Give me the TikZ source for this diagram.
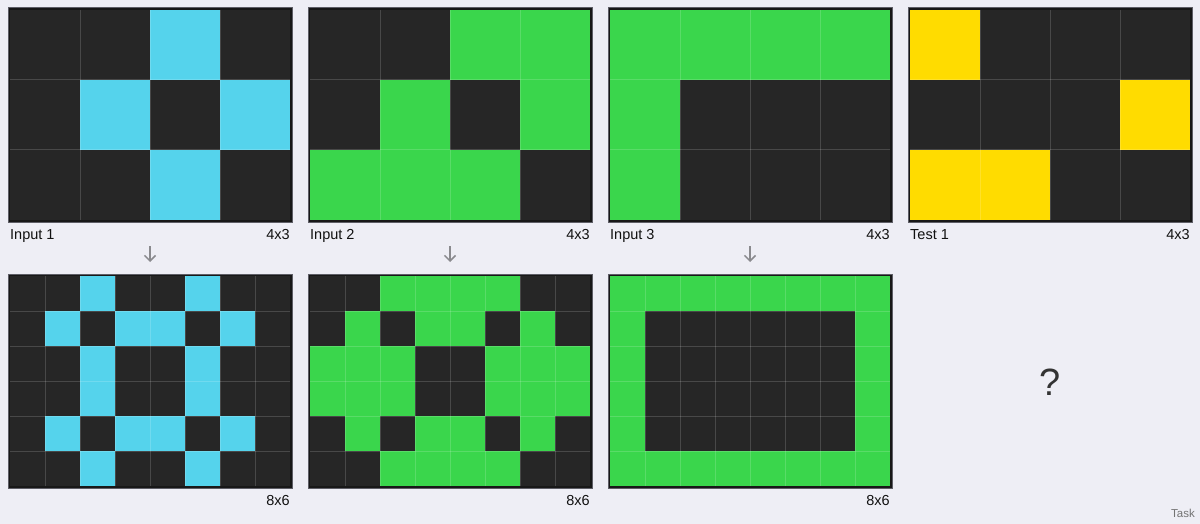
\documentclass[tikz,border=0pt]{standalone}
\usepackage{fontspec}
\setmainfont{Liberation Sans}
\usetikzlibrary{arrows.meta}
\definecolor{bg}{HTML}{EEEEF5}
\definecolor{celldark}{HTML}{262626}
\definecolor{framedark}{HTML}{181818}
\definecolor{framegrey}{HTML}{5E5E66}
\definecolor{arccyan}{HTML}{55D3EC}
\definecolor{arcgreen}{HTML}{3AD64C}
\definecolor{arcyellow}{HTML}{FFDC00}
\definecolor{arrowgrey}{HTML}{8A8A8E}
\definecolor{labeltext}{HTML}{111111}
\tikzset{
  gridframe/.style={draw=framegrey, fill=framedark, line width=1pt, inner sep=0pt, outer sep=0pt, rectangle},
  gridline/.style={draw=white, opacity=0.16, line width=1pt},
  lbl/.style={font=\fontsize{14.5}{16}\selectfont, text=labeltext, inner sep=0pt},
  arrowconn/.style={draw=arrowgrey, line width=1.5pt, -{Straight Barb[length=5.5pt,width=11pt,line width=1.5pt]}},
}
% #1 name #2 x0 #3 y0 #4 cell #5 ncols #6 nrows #7 colour #8 data
\newcommand\arcgrid[8]{%
  \node[gridframe, anchor=north west, minimum width={#4*#5+4}, minimum height={#4*#6+4}] (#1) at ({#2-2},{#3-2}) {};
  \fill[celldark] (#2,#3) rectangle ({#2+#4*#5},{#3+#4*#6});
  \foreach \row [count=\r from 0] in {#8} {
    \foreach \v [count=\c from 0] in \row {
      \ifnum\v=1 \fill[#7] ({#2+\c*#4},{#3+\r*#4}) rectangle ++(#4,#4);\fi
    }
  }
  \pgfmathtruncatemacro\lastc{#5-1}
  \pgfmathtruncatemacro\lastr{#6-1}
  \foreach \i in {1,...,\lastc} \draw[gridline] ({#2+\i*#4},#3) -- ({#2+\i*#4},{#3+#4*#6});
  \foreach \j in {1,...,\lastr} \draw[gridline] (#2,{#3+\j*#4}) -- ({#2+#4*#5},{#3+\j*#4});
}
\begin{document}
\begin{tikzpicture}[x=1pt,y=-1pt]
\useasboundingbox (0,0) rectangle (1200,524);
\fill[bg] (0,0) rectangle (1200,524);

% ---- inputs (top row)
\arcgrid{in1}{10}{10}{70}{4}{3}{arccyan}{{0,0,1,0},{0,1,0,1},{0,0,1,0}}
\arcgrid{in2}{310}{10}{70}{4}{3}{arcgreen}{{0,0,1,1},{0,1,0,1},{1,1,1,0}}
\arcgrid{in3}{610}{10}{70}{4}{3}{arcgreen}{{1,1,1,1},{1,0,0,0},{1,0,0,0}}
\arcgrid{test1}{910}{10}{70}{4}{3}{arcyellow}{{1,0,0,0},{0,0,0,1},{1,1,0,0}}

% ---- outputs (bottom row)
\arcgrid{out1}{10}{276}{35}{8}{6}{arccyan}{{0,0,1,0,0,1,0,0},{0,1,0,1,1,0,1,0},{0,0,1,0,0,1,0,0},{0,0,1,0,0,1,0,0},{0,1,0,1,1,0,1,0},{0,0,1,0,0,1,0,0}}
\arcgrid{out2}{310}{276}{35}{8}{6}{arcgreen}{{0,0,1,1,1,1,0,0},{0,1,0,1,1,0,1,0},{1,1,1,0,0,1,1,1},{1,1,1,0,0,1,1,1},{0,1,0,1,1,0,1,0},{0,0,1,1,1,1,0,0}}
\arcgrid{out3}{610}{276}{35}{8}{6}{arcgreen}{{1,1,1,1,1,1,1,1},{1,0,0,0,0,0,0,1},{1,0,0,0,0,0,0,1},{1,0,0,0,0,0,0,1},{1,0,0,0,0,0,0,1},{1,1,1,1,1,1,1,1}}

% ---- labels
\node[lbl, anchor=base west] (l1) at (10,240) {Input 1};
\node[lbl, anchor=base east] (s1) at (290,240) {4x3};
\node[lbl, anchor=base west] (l2) at (310,240) {Input 2};
\node[lbl, anchor=base east] (s2) at (590,240) {4x3};
\node[lbl, anchor=base west] (l3) at (610,240) {Input 3};
\node[lbl, anchor=base east] (s3) at (890,240) {4x3};
\node[lbl, anchor=base west] (l4) at (910,240) {Test 1};
\node[lbl, anchor=base east] (s4) at (1190,240) {4x3};
\node[lbl, anchor=base east] (o1) at (290,505) {8x6};
\node[lbl, anchor=base east] (o2) at (590,505) {8x6};
\node[lbl, anchor=base east] (o3) at (890,505) {8x6};

% ---- arrows
\coordinate (a1s) at (150,246); \coordinate (a1e) at (150,262);
\coordinate (a2s) at (450,246); \coordinate (a2e) at (450,262);
\coordinate (a3s) at (750,246); \coordinate (a3e) at (750,262);
\draw[arrowconn] (a1s) -- (a1e);
\draw[arrowconn] (a2s) -- (a2e);
\draw[arrowconn] (a3s) -- (a3e);

% ---- unknown answer and caption
\node[inner sep=0pt, font=\fontsize{38}{42}\selectfont, text=black!80] (q) at (1050,382) {?};
\node[inner sep=0pt, anchor=base east, font=\fontsize{11.5}{13}\selectfont, text=black!55] (task) at (1195,517) {Task};
\end{tikzpicture}
\end{document}
